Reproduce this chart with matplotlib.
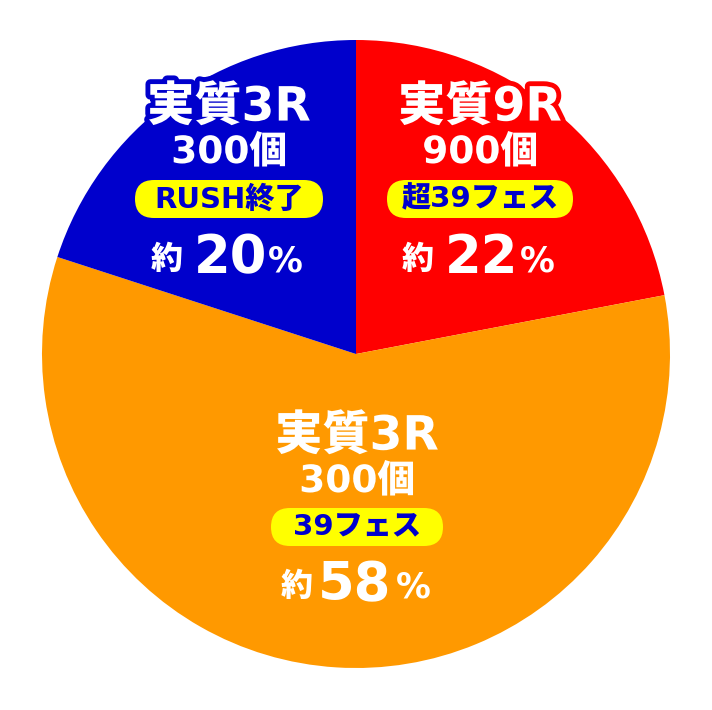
import matplotlib
matplotlib.use("Agg")
import matplotlib.pyplot as plt
import matplotlib.patheffects as pe
from matplotlib.patches import FancyBboxPatch

# slices, drawn clockwise from 12 o'clock
names    = ["実質9R", "実質3R", "実質3R"]
payouts  = ["900個", "300個", "300個"]
badges   = ["超39フェス", "39フェス", "RUSH終了"]
shares   = [22, 58, 20]
colors   = ["#ff0000", "#ff9900", "#0000cc"]

W, H = 712, 710
FONT = ["DejaVu Sans", "Noto Sans CJK JP"]

fig = plt.figure(figsize=(W / 100, H / 100), dpi=100)
ax = fig.add_axes([0, 0, 1, 1])

cx, cy, r = 356, 354, 314
ax.pie(shares, colors=colors, startangle=270, counterclock=True,
       center=(cx, cy), radius=r, frame=True,
       wedgeprops=dict(linewidth=0))
ax.set_xlim(0, W)
ax.set_ylim(H, 0)
ax.set_aspect("auto")
ax.axis("off")

# label block layout per slice: (center x, title y, pill y, pill w, pct y, kanji x, num x, pct x)
layout = [
    (480, 108, 199, 186, 258, 418, 482, 537),
    (357, 437, 527, 172, 585, 297, 355, 413),
    (229, 108, 199, 188, 258, 167, 231, 285),
]

for i in range(len(shares)):
    x, ty, py, pw, qy, kx, nx, sx = layout[i]
    stroke = [pe.withStroke(linewidth=7, foreground=colors[i])]
    ax.text(x, ty, names[i], fontsize=34, fontweight=900, family=FONT,
            color="white", ha="center", va="center", path_effects=stroke)
    ax.text(x, ty + 45, payouts[i], fontsize=27, fontweight=900, family=FONT,
            color="white", ha="center", va="center", path_effects=stroke)
    ph = 38
    ax.add_patch(FancyBboxPatch((x - pw / 2, py - ph / 2), pw, ph,
                                boxstyle=f"round,pad=0,rounding_size={ph / 2}",
                                facecolor="#ffff00", edgecolor="none"))
    ax.text(x, py, badges[i], fontsize=21, fontweight=900, family=FONT,
            color="#0000cc", ha="center", va="center")
    ax.text(kx, qy + 2, "約", fontsize=23, fontweight=900, family=FONT,
            color="white", ha="center", va="center")
    ax.text(nx, qy, str(shares[i]), fontsize=38, fontweight=900, family=FONT,
            color="white", ha="center", va="center")
    ax.text(sx, qy + 3, "%", fontsize=25, fontweight=900, family=FONT,
            color="white", ha="center", va="center")

fig.savefig("out.png", dpi=100)
